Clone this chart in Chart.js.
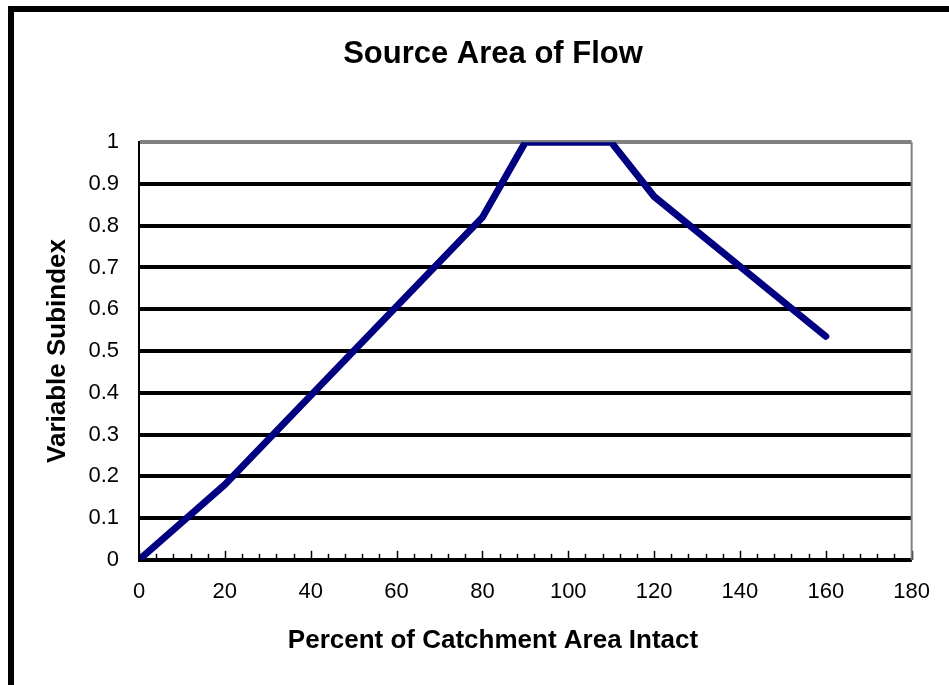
<!DOCTYPE html>
<html>
<head>
<meta charset="utf-8">
<script src="https://cdn.jsdelivr.net/npm/chart.js@4.4.0/dist/chart.umd.min.js"></script>
<style>
    html, body { margin: 0; padding: 0; background: #fff; overflow: hidden; }
    #frame {
        position: absolute; left: 8px; top: 6px; width: 1000px; height: 700px;
        border-left: 6px solid #000; border-top: 6px solid #000;
    }
    #chartBox { position: absolute; left: 0; top: 0; width: 949px; height: 685px; }
</style>
</head>
<body>
<div id="frame"></div>
<div id="chartBox"><canvas id="SourceAreaChart" width="949" height="685"></canvas></div>
<script>
const percentIntact = [0, 20, 80, 90, 110, 120, 160];
const subindex = [0, 0.18, 0.82, 1, 1, 0.87, 0.535];
const xTickLabels = [0, 20, 40, 60, 80, 100, 120, 140, 160, 180];
const yTickLabels = ['0', '0.1', '0.2', '0.3', '0.4', '0.5', '0.6', '0.7', '0.8', '0.9', '1'];

const FONT = "'Liberation Sans', Arial, sans-serif";

// small tick marks on the x axis, pointing up into the plot, plus the grey right edge
const plotDecor = {
    id: 'plotDecor',
    afterDraw(chart) {
        const { ctx, chartArea } = chart;
        const x = chart.scales.x;
        ctx.save();
        ctx.strokeStyle = '#000';
        ctx.lineWidth = 1.5;
        x.ticks.forEach(t => {
            const px = Math.round(x.getPixelForValue(t.value)) + 0.5;
            const len = xTickLabels.includes(t.value) ? 9 : 6;
            ctx.beginPath();
            ctx.moveTo(px, chartArea.bottom);
            ctx.lineTo(px, chartArea.bottom - len);
            ctx.stroke();
        });
        ctx.strokeStyle = '#808080';
        ctx.lineWidth = 2;
        ctx.beginPath();
        ctx.moveTo(chartArea.right, chartArea.top);
        ctx.lineTo(chartArea.right, chartArea.bottom);
        ctx.stroke();
        ctx.restore();
    }
};

const ctx = document.getElementById('SourceAreaChart').getContext('2d');

new Chart(ctx, {
    type: 'line',
    data: {
        datasets: [{
            label: 'Variable Subindex',
            data: percentIntact.map((p, i) => ({ x: p, y: subindex[i] })),
            borderColor: '#000080',
            borderWidth: 7,
            borderCapStyle: 'round',
            borderJoinStyle: 'round',
            pointRadius: 0,
            tension: 0,
            clip: 0
        }]
    },
    plugins: [plotDecor],
    options: {
        responsive: false,
        animation: false,
        devicePixelRatio: 1,
        layout: { padding: { left: 37, right: 0, top: 0, bottom: 0 } },
        scales: {
            x: {
                type: 'linear',
                min: 0,
                max: 180,
                afterFit(scale) { scale.height = 55; },
                ticks: {
                    stepSize: 4,
                    autoSkip: false,
                    maxRotation: 0,
                    padding: 19,
                    color: '#000',
                    font: { family: FONT, size: 22 },
                    callback: value => xTickLabels.includes(value) ? String(value) : ''
                },
                grid: { drawOnChartArea: false, drawTicks: false },
                border: { color: '#000', width: 2 }
            },
            y: {
                min: 0,
                max: 1,
                afterFit(scale) { scale.width = 102; },
                ticks: {
                    stepSize: 0.1,
                    padding: 20,
                    color: '#000',
                    font: { family: FONT, size: 22 },
                    callback: (value, index) => yTickLabels[index]
                },
                grid: {
                    drawTicks: false,
                    lineWidth: 4,
                    color: c => c.tick.value >= 1 ? '#808080' : '#000'
                },
                border: { color: '#000', width: 2 },
                title: {
                    display: true,
                    text: 'Variable Subindex',
                    color: '#000',
                    font: { family: FONT, size: 26, weight: 'bold' },
                    padding: { top: 5, bottom: 0 }
                }
            },
            yRight: {
                position: 'right',
                afterFit(scale) { scale.width = 37; },
                ticks: { display: false },
                grid: { display: false },
                border: { display: false }
            }
        },
        plugins: {
            legend: { display: false },
            tooltip: { enabled: false },
            title: {
                display: true,
                text: 'Source Area of Flow',
                color: '#000',
                font: { family: FONT, size: 31, weight: 'bold' },
                padding: { top: 36, bottom: 69 }
            },
            subtitle: {
                display: true,
                position: 'bottom',
                text: 'Percent of Catchment Area Intact',
                color: '#000',
                font: { family: FONT, size: 26, weight: 'bold' },
                padding: { top: 10, bottom: 29 }
            }
        }
    }
});
</script>
</body>
</html>
